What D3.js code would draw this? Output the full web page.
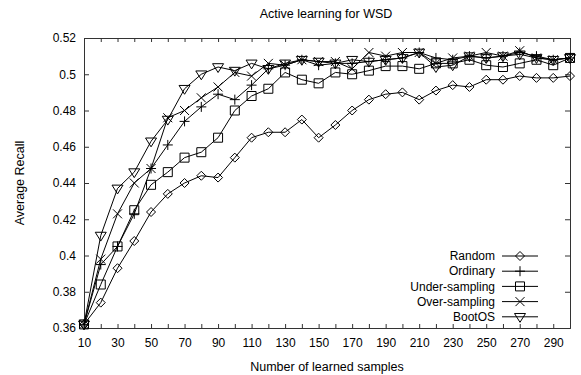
<!DOCTYPE html>
<svg width="581" height="375"></svg>
<style>
  body { margin: 0; background: #fff; }
  svg { display: block; font-family: "Liberation Sans", Arial, sans-serif; }
  .axis text { font-size: 12px; fill: #000; }
</style>
<script src="https://d3js.org/d3.v7.min.js"></script>
<script>

// samples on the x axis
var samples = [10, 20, 30, 40, 50, 60, 70, 80, 90, 100, 110, 120, 130, 140, 150,
               160, 170, 180, 190, 200, 210, 220, 230, 240, 250, 260, 270, 280, 290, 300];

var random = [0.362, 0.374, 0.393, 0.408, 0.424, 0.434, 0.440, 0.444, 0.443, 0.454,
              0.465, 0.468, 0.468, 0.475, 0.465, 0.472, 0.480, 0.486, 0.489, 0.490,
              0.486, 0.491, 0.494, 0.493, 0.497, 0.497, 0.499, 0.498, 0.498, 0.499];
var ordinary = [0.362, 0.395, 0.405, 0.423, 0.448, 0.461, 0.474, 0.482, 0.489, 0.486,
                0.494, 0.503, 0.505, 0.508, 0.505, 0.506, 0.506, 0.507, 0.508, 0.509,
                0.512, 0.509, 0.508, 0.510, 0.509, 0.510, 0.512, 0.510, 0.508, 0.509];
var underSampling = [0.362, 0.384, 0.405, 0.425, 0.439, 0.446, 0.454, 0.457, 0.465, 0.480,
                     0.488, 0.492, 0.501, 0.497, 0.495, 0.501, 0.500, 0.502, 0.5045, 0.5045,
                     0.503, 0.506, 0.506, 0.508, 0.505, 0.504, 0.506, 0.508, 0.505, 0.509];
var overSampling = [0.362, 0.398, 0.423, 0.440, 0.448, 0.476, 0.480, 0.487, 0.493, 0.501,
                    0.499, 0.506, 0.505, 0.508, 0.507, 0.507, 0.503, 0.512, 0.510, 0.512,
                    0.512, 0.506, 0.509, 0.510, 0.512, 0.510, 0.513, 0.509, 0.508, 0.509];
var bootOS = [0.362, 0.411, 0.437, 0.446, 0.463, 0.475, 0.492, 0.500, 0.504, 0.502,
              0.506, 0.503, 0.506, 0.508, 0.507, 0.506, 0.508, 0.507, 0.508, 0.509,
              0.512, 0.504, 0.505, 0.510, 0.509, 0.510, 0.511, 0.509, 0.508, 0.509];

var seriesNames = ["Random", "Ordinary", "Under-sampling", "Over-sampling", "BootOS"];
var seriesMarks = ["diamond", "plus", "square", "cross", "triangle"];

var xTickLabels = [10, 30, 50, 70, 90, 110, 130, 150, 170, 190, 210, 230, 250, 270, 290];
var yTickLabels = ["0.36", "0.38", "0.4", "0.42", "0.44", "0.46", "0.48", "0.5", "0.52"];

var series = [random, ordinary, underSampling, overSampling, bootOS].map(function(vals, i) {
  return {
    name: seriesNames[i],
    mark: seriesMarks[i],
    values: vals.map(function(v, j) { return {x: samples[j], y: v}; })
  };
});

var svg = d3.select("svg");

var x = d3.scaleLinear().domain([10, 300]).range([84, 570]);
var y = d3.scaleLinear().domain([0.36, 0.52]).range([328, 38]);

// gnuplot-ish point shapes
function markPath(type) {
  var r;
  switch (type) {
    case "diamond": r = 4.5; return "M0," + -r + "L" + r + ",0L0," + r + "L" + -r + ",0Z";
    case "plus": r = 5; return "M" + -r + ",0H" + r + "M0," + -r + "V" + r;
    case "square": r = 4.5; return "M" + -r + "," + -r + "H" + r + "V" + r + "H" + -r + "Z";
    case "cross": r = 4.5; return "M" + -r + "," + -r + "L" + r + "," + r + "M" + r + "," + -r + "L" + -r + "," + r;
    case "triangle": r = 5.5; return "M" + -r + "," + (-r * 0.6) + "H" + r + "L0," + r + "Z";
  }
}

// axes, ticks pointing inwards
var minorX = d3.range(10, 301, 10);

svg.append("g")
    .attr("class", "axis")
    .attr("transform", "translate(0," + y(0.36) + ")")
    .call(d3.axisBottom(x).tickValues(minorX).tickSize(-4).tickPadding(10)
      .tickFormat(function(d) { return xTickLabels.indexOf(d) >= 0 ? d : ""; }));

svg.append("g")
    .attr("class", "axis")
    .attr("transform", "translate(0," + y(0.52) + ")")
    .call(d3.axisTop(x).tickValues(minorX).tickSize(-4).tickFormat(""));

svg.append("g")
    .attr("class", "axis")
    .attr("transform", "translate(" + x(10) + ",0)")
    .call(d3.axisLeft(y).tickValues(yTickLabels.map(Number)).tickSize(-5).tickPadding(8)
      .tickFormat(function(d, i) { return yTickLabels[i]; }));

svg.append("g")
    .attr("class", "axis")
    .attr("transform", "translate(" + x(300) + ",0)")
    .call(d3.axisRight(y).tickValues(yTickLabels.map(Number)).tickSize(-5).tickFormat(""));

svg.selectAll(".axis .domain").attr("stroke", "#333");
svg.selectAll(".axis .tick line").attr("stroke", "#333");

// lines and points
var line = d3.line()
    .x(function(d) { return x(d.x); })
    .y(function(d) { return y(d.y); });

series.forEach(function(s) {
  svg.append("path")
      .datum(s.values)
      .attr("fill", "none")
      .attr("stroke", "#000")
      .attr("stroke-width", 1)
      .attr("d", line);

  svg.append("g").selectAll("path")
      .data(s.values)
      .join("path")
      .attr("transform", function(d) { return "translate(" + x(d.x) + "," + y(d.y) + ")"; })
      .attr("d", markPath(s.mark))
      .attr("fill", "none")
      .attr("stroke", "#000")
      .attr("stroke-width", 1);
});

// legend
var legend = svg.append("g").attr("transform", "translate(0,256)");
series.forEach(function(s, i) {
  var row = legend.append("g").attr("transform", "translate(0," + i * 15.2 + ")");
  row.append("text")
      .attr("x", 495)
      .attr("dy", "0.35em")
      .attr("text-anchor", "end")
      .style("font-size", "12px")
      .text(s.name);
  row.append("line")
      .attr("x1", 502).attr("x2", 538)
      .attr("stroke", "#000");
  row.append("path")
      .attr("transform", "translate(520,0)")
      .attr("d", markPath(s.mark))
      .attr("fill", "none")
      .attr("stroke", "#000");
});

// titles
svg.append("text")
    .attr("x", 326)
    .attr("y", 18)
    .attr("text-anchor", "middle")
    .style("font-size", "12.5px")
    .text("Active learning for WSD");

svg.append("text")
    .attr("x", 327)
    .attr("y", 371)
    .attr("text-anchor", "middle")
    .style("font-size", "12.5px")
    .text("Number of learned samples");

svg.append("text")
    .attr("transform", "translate(24,183) rotate(-90)")
    .attr("text-anchor", "middle")
    .style("font-size", "12.5px")
    .text("Average Recall");

</script>
